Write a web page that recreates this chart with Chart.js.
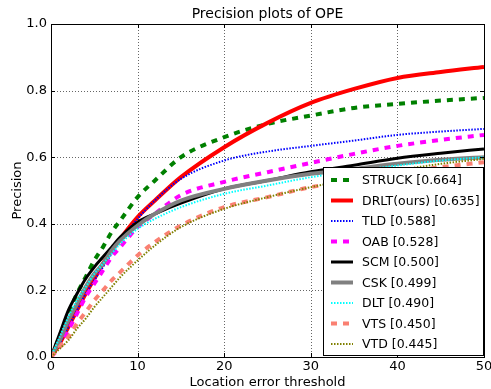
<!DOCTYPE html>
<html>
<head>
<meta charset="utf-8">
<script src="https://cdn.jsdelivr.net/npm/chart.js@4.4.1/dist/chart.umd.min.js"></script>
<style>
  html, body { margin: 0; padding: 0; background: #fff; }
  #wrap { width: 491px; height: 389px; }
</style>
</head>
<body>
<div id="wrap"><canvas id="ope"></canvas></div>
<script>
// ── Data ──
const thresholds = [0, 1, 2, 3, 4, 5, 6, 7, 8, 10, 12, 15, 20, 25, 30, 35, 40, 45, 50];

const trackers = ['STRUCK', 'DRLT(ours)', 'TLD', 'OAB', 'SCM', 'CSK', 'DLT', 'VTS', 'VTD'];
const scores   = [0.664, 0.635, 0.588, 0.528, 0.500, 0.499, 0.490, 0.450, 0.445];

const struck = [0, 0.06, 0.13, 0.19, 0.24, 0.29, 0.33, 0.375, 0.41, 0.48, 0.53, 0.60, 0.66, 0.70, 0.725, 0.748, 0.76, 0.77, 0.778];
const drlt   = [0, 0.04, 0.09, 0.14, 0.19, 0.235, 0.28, 0.32, 0.355, 0.42, 0.47, 0.54, 0.63, 0.703, 0.763, 0.805, 0.838, 0.856, 0.871];
const tld    = [0, 0.04, 0.09, 0.14, 0.19, 0.23, 0.27, 0.31, 0.35, 0.415, 0.47, 0.535, 0.59, 0.617, 0.634, 0.65, 0.667, 0.677, 0.685];
const oab    = [0, 0.03, 0.08, 0.13, 0.18, 0.22, 0.26, 0.30, 0.33, 0.39, 0.43, 0.486, 0.526, 0.555, 0.583, 0.61, 0.634, 0.652, 0.667];
const scm    = [0, 0.07, 0.14, 0.19, 0.235, 0.27, 0.30, 0.33, 0.36, 0.405, 0.43, 0.462, 0.505, 0.53, 0.556, 0.576, 0.597, 0.612, 0.625];
const csk    = [0, 0.05, 0.11, 0.16, 0.21, 0.25, 0.28, 0.32, 0.35, 0.395, 0.43, 0.47, 0.505, 0.53, 0.55, 0.565, 0.58, 0.592, 0.60];
const dlt    = [0, 0.06, 0.12, 0.17, 0.21, 0.25, 0.28, 0.31, 0.34, 0.385, 0.415, 0.45, 0.49, 0.515, 0.54, 0.558, 0.575, 0.59, 0.60];
const vts    = [0, 0.03, 0.06, 0.10, 0.135, 0.17, 0.20, 0.23, 0.255, 0.305, 0.345, 0.395, 0.45, 0.48, 0.51, 0.53, 0.553, 0.57, 0.585];
const vtd    = [0, 0.025, 0.05, 0.085, 0.115, 0.15, 0.18, 0.21, 0.24, 0.29, 0.335, 0.39, 0.445, 0.48, 0.51, 0.535, 0.56, 0.58, 0.595];

const xTicks = [0, 10, 20, 30, 40, 50];
const yTicks = [0.0, 0.2, 0.4, 0.6, 0.8, 1.0];

// line styles per tracker (colour, width, dash)
const STYLES = [
    { color: '#008000', width: 4,   dash: [6, 6] },
    { color: '#ff0000', width: 4,   dash: [] },
    { color: '#0000ff', width: 2,   dash: [1.5, 1.5] },
    { color: '#ff00ff', width: 4,   dash: [6, 6] },
    { color: '#000000', width: 3,   dash: [] },
    { color: '#808080', width: 4,   dash: [] },
    { color: '#00ffff', width: 2,   dash: [1.5, 1.5] },
    { color: '#fa8072', width: 4,   dash: [6, 6] },
    { color: '#808000', width: 2,   dash: [1.5, 1.5] },
];

const series = [struck, drlt, tld, oab, scm, csk, dlt, vts, vtd];
const FONT = "'DejaVu Sans', sans-serif";

Chart.defaults.font.family = FONT;
Chart.defaults.color = '#000';

// ── Dotted grid under the curves ──
const gridPlugin = {
    id: 'dottedGrid',
    beforeDatasetsDraw(chart) {
        const { ctx, chartArea: a, scales } = chart;
        ctx.save();
        ctx.strokeStyle = '#666';
        ctx.lineWidth = 1;
        ctx.setLineDash([1, 2]);
        ctx.beginPath();
        xTicks.forEach(v => {
            const x = Math.round(scales.x.getPixelForValue(v)) + 0.5;
            ctx.moveTo(x, a.top); ctx.lineTo(x, a.bottom);
        });
        yTicks.forEach(v => {
            const y = Math.round(scales.y.getPixelForValue(v)) + 0.5;
            ctx.moveTo(a.left, y); ctx.lineTo(a.right, y);
        });
        ctx.stroke();
        ctx.restore();
    }
};

// ── Frame, ticks, labels, title and legend box ──
const framePlugin = {
    id: 'frame',
    afterDatasetsDraw(chart) {
        const { ctx, chartArea: a, scales } = chart;
        ctx.save();
        ctx.strokeStyle = '#000';
        ctx.lineWidth = 1;
        ctx.setLineDash([]);
        ctx.strokeRect(a.left + 0.5, a.top + 0.5, a.right - a.left, a.bottom - a.top);

        // tick marks pointing inward on all four sides
        ctx.beginPath();
        xTicks.forEach(v => {
            const x = Math.round(scales.x.getPixelForValue(v)) + 0.5;
            ctx.moveTo(x, a.bottom); ctx.lineTo(x, a.bottom - 4);
            ctx.moveTo(x, a.top); ctx.lineTo(x, a.top + 4);
        });
        yTicks.forEach(v => {
            const y = Math.round(scales.y.getPixelForValue(v)) + 0.5;
            ctx.moveTo(a.left, y); ctx.lineTo(a.left + 4, y);
            ctx.moveTo(a.right, y); ctx.lineTo(a.right - 4, y);
        });
        ctx.stroke();

        ctx.fillStyle = '#000';
        ctx.font = '13px ' + FONT;
        ctx.textBaseline = 'middle';
        ctx.textAlign = 'center';
        xTicks.forEach(v => ctx.fillText(String(v), scales.x.getPixelForValue(v), a.bottom + 10));
        ctx.textAlign = 'right';
        yTicks.forEach(v => ctx.fillText(v.toFixed(1), a.left - 4, scales.y.getPixelForValue(v)));

        ctx.textAlign = 'center';
        ctx.fillText('Location error threshold', (a.left + a.right) / 2, a.bottom + 26);
        ctx.save();
        ctx.translate(18, (a.top + a.bottom) / 2);
        ctx.rotate(-Math.PI / 2);
        ctx.fillText('Precision', 0, 0);
        ctx.restore();

        ctx.font = '14px ' + FONT;
        ctx.textBaseline = 'alphabetic';
        ctx.fillText('Precision plots of OPE', (a.left + a.right) / 2, 18);

        // legend box, bottom right
        const bx = 323, by = 167, bw = 160, bh = 188;
        ctx.fillStyle = '#fff';
        ctx.fillRect(bx, by, bw, bh);
        ctx.strokeRect(bx + 0.5, by + 0.5, bw, bh);
        ctx.font = '12.5px ' + FONT;
        ctx.textAlign = 'left';
        ctx.textBaseline = 'middle';
        trackers.forEach((name, i) => {
            const s = STYLES[i];
            const y = 180 + i * 20.5;
            ctx.beginPath();
            ctx.strokeStyle = s.color;
            ctx.lineWidth = s.width;
            ctx.setLineDash(s.dash);
            ctx.moveTo(331, y); ctx.lineTo(353, y);
            ctx.stroke();
            ctx.setLineDash([]);
            ctx.fillStyle = '#000';
            ctx.fillText(`${name} [${scores[i].toFixed(3)}]`, 362, y + 1);
        });
        ctx.restore();
    }
};

new Chart(document.getElementById('ope'), {
    type: 'line',
    data: {
        datasets: trackers.map((name, i) => ({
            label: name,
            data: thresholds.map((t, k) => ({ x: t, y: series[i][k] })),
            borderColor: STYLES[i].color,
            borderWidth: STYLES[i].width,
            borderDash: STYLES[i].dash,
            borderCapStyle: 'butt',
            pointRadius: 0,
            fill: false,
            cubicInterpolationMode: 'monotone',
            order: trackers.length - i,
        }))
    },
    options: {
        responsive: true,
        maintainAspectRatio: false,
        animation: false,
        layout: { padding: { top: 24, right: 7, left: 0, bottom: 0 } },
        plugins: {
            legend: { display: false },
            title: { display: false },
            tooltip: { enabled: false }
        },
        scales: {
            x: {
                type: 'linear',
                min: 0, max: 50,
                afterFit: s => { s.height = 32; },
                grid: { display: false },
                border: { display: false },
                ticks: { display: false }
            },
            y: {
                min: 0, max: 1,
                afterFit: s => { s.width = 51; },
                grid: { display: false },
                border: { display: false },
                ticks: { display: false }
            }
        }
    },
    plugins: [gridPlugin, framePlugin]
});
</script>
</body>
</html>
